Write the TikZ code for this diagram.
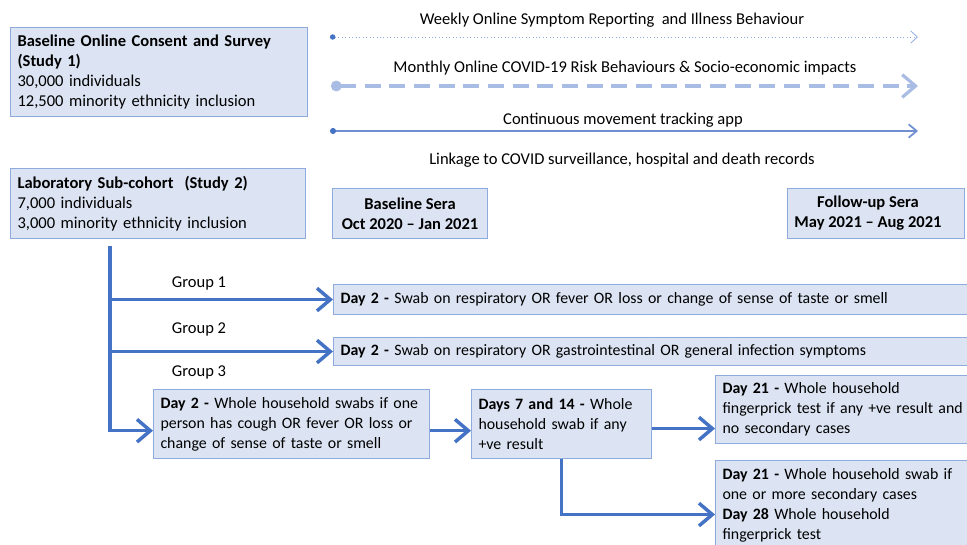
\documentclass[tikz,border=0pt]{standalone}
\usepackage{fontspec}
\setmainfont{Carlito}
\usetikzlibrary{arrows.meta}
\definecolor{boxfill}{HTML}{DCE4F3}
\definecolor{boxline}{HTML}{8FAADC}
\definecolor{mainblue}{HTML}{4472C4}
\definecolor{lightblue}{HTML}{A9BCE3}
\definecolor{midblue}{HTML}{6F8FD0}
\begin{document}
\begin{tikzpicture}[x=0.75pt,y=-0.75pt,
  every node/.style={font=\fontsize{12.4}{15}\selectfont},
  box/.style={draw=boxline, line width=0.8pt, fill=boxfill, rectangle, anchor=north west,
    inner xsep=5.25pt, inner ysep=0pt, align=left},
  lowbox/.style={box, font=\fontsize{11.9}{15}\selectfont},
  cbox/.style={draw=boxline, line width=0.8pt, fill=boxfill, rectangle, anchor=north west,
    inner sep=0pt, align=center, font=\fontsize{12.4}{15}\selectfont\bfseries},
  plain/.style={inner sep=0pt},
  mainarrow/.style={draw=mainblue, line width=2.6pt,
    -{Straight Barb[length=10pt,width=17pt,line width=2.6pt]}},
]
\useasboundingbox (0,0) rectangle (967,545);
\clip (0,0) rectangle (967,545);

% top boxes
\node[box, text width=212pt, minimum height=66.75pt] (base) at (10,27)
  {\textbf{Baseline Online Consent and Survey}\\\textbf{(Study 1)}\\30,000 individuals\\12,500 minority ethnicity inclusion};
\node[box, text width=210.5pt, minimum height=52.5pt] (lab) at (10,168)
  {\textbf{Laboratory Sub-cohort\ \ (Study 2)}\\7,000 individuals\\3,000 minority ethnicity inclusion};
\node[cbox, minimum width=116.25pt, minimum height=37.5pt] (bs) at (332,188)
  {Baseline Sera\\Oct 2020 -- Jan 2021};
\node[cbox, minimum width=132.75pt, minimum height=37.5pt] (fs) at (787,188) {};
\node[plain, align=center, font=\fontsize{12.4}{15}\selectfont\bfseries] (fst) at (868,213)
  {Follow-up Sera\\May 2021 -- Aug 2021};

% timeline labels
\node[plain] (wk) at (612,20) {Weekly Online Symptom Reporting\ \ and Illness Behaviour};
\node[plain] (mo) at (625,68) {Monthly Online COVID-19 Risk Behaviours \& Socio-economic impacts};
\node[plain] (ct) at (623,120) {Continuous movement tracking app};
\node[plain] (lk) at (622,160) {Linkage to COVID surveillance, hospital and death records};

\coordinate (w1) at (330,37);  \coordinate (w2) at (918,37);
\coordinate (m1) at (331,86);  \coordinate (m2) at (918,86);
\coordinate (c1) at (330,131); \coordinate (c2) at (918,131);

\draw[draw=boxline, line width=0.6pt, dotted,
  {Circle[length=4pt,color=mainblue]}-{Straight Barb[length=5pt,width=9pt,line width=0.6pt,color=boxline]}]
  (w1) -- (w2);
\draw[draw=lightblue, line width=2.6pt, dash pattern=on 12pt off 6.5pt,
  {Circle[length=8pt]}-{Straight Barb[length=10pt,width=17pt,line width=2.4pt]}]
  (m1) -- (m2);
\draw[draw=midblue, line width=1.1pt,
  {Circle[length=4.5pt,color=mainblue]}-{Straight Barb[length=6pt,width=10pt,line width=1.3pt]}]
  (c1) -- (c2);

% group boxes
\node[lowbox, text width=470pt, minimum height=22.5pt] (g1) at (333,284)
  {\textbf{Day 2 -} Swab on respiratory OR fever OR loss or change of sense of taste or smell};
\node[lowbox, text width=470pt, minimum height=21pt] (g2) at (333,337)
  {\textbf{Day 2 -} Swab on respiratory OR gastrointestinal OR general infection symptoms};
\node[lowbox, text width=196.5pt, minimum height=51.75pt] (hh) at (153,389)
  {\textbf{Day 2 -} Whole household swabs if one\\person has cough OR fever OR loss or\\change of sense of taste or smell};
\node[lowbox, text width=124.5pt, minimum height=51.75pt] (d7) at (471,389)
  {\textbf{Days 7 and 14 -} Whole\\household swab if any\\+ve result};
\node[lowbox, text width=190pt, minimum height=51pt] (d21a) at (715,375)
  {\textbf{Day 21 -} Whole household\\fingerprick test if any +ve result and\\no secondary cases};
\node[lowbox, text width=190pt, minimum height=67.5pt] (d21b) at (715,460)
  {\textbf{Day 21 -} Whole household swab if\\one or more secondary cases\\\textbf{Day 28} Whole household\\fingerprick test};

% group labels
\node[plain] (gl1) at (199,283) {Group 1};
\node[plain] (gl2) at (199,329) {Group 2};
\node[plain] (gl3) at (199,372) {Group 3};

% connectors
\coordinate (top) at (110,246);
\draw[mainarrow] (top) |- ([yshift=-5pt]hh.west);
\draw[mainarrow] (top |- g1.west) -- (g1.west);
\draw[mainarrow] (top |- g2.west) -- (g2.west);
\draw[mainarrow] ([yshift=-5pt]hh.east) -- ([yshift=-5pt]hh.east -| d7.west);
\draw[mainarrow] ([yshift=-3.4pt]d7.east) -- ([yshift=-3.4pt]d7.east -| d21a.west);
\draw[mainarrow] (d7.south) |- ([yshift=-6.75pt]d21b.west);
\end{tikzpicture}
\end{document}
